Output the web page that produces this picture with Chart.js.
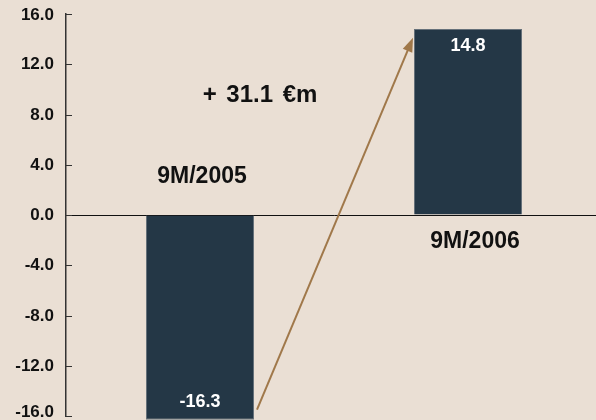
<!DOCTYPE html>
<html lang="en">
<head>
    <meta charset="utf-8">
    <title>9M result</title>
    <script src="https://cdn.jsdelivr.net/npm/chart.js"></script>
    <style>
        html, body {
            margin: 0;
            padding: 0;
            background: #eadfd4;
            overflow: hidden;
        }
        #box {
            width: 602px;
            height: 420px;
        }
    </style>
</head>
<body>
    <div id="box">
        <canvas id="resultChart"></canvas>
    </div>
    <script>
        // data
        const periods = ['9M/2005', '9M/2006'];
        const results = [-16.3, 14.8];
        const yTicks = [-16, -12, -8, -4, 0, 4, 8, 12, 16];
        const deltaText = '+ 31.1 \u20acm';

        const FONT = '"Liberation Sans", Arial, sans-serif';

        // tick labels, period names, bar values, the delta text and the arrow
        const decorPlugin = {
            id: 'decor',
            afterDatasetsDraw(chart) {
                const ctx = chart.ctx;
                const y = chart.scales.y;
                const bars = chart.getDatasetMeta(0).data;
                const area = chart.chartArea;

                ctx.save();
                // tick marks on the inner side of the axis, labels to the left
                ctx.strokeStyle = '#333';
                ctx.lineWidth = 1;
                ctx.fillStyle = '#111';
                ctx.font = 'bold 17px ' + FONT;
                ctx.textAlign = 'right';
                ctx.textBaseline = 'middle';
                yTicks.forEach(t => {
                    const py = Math.round(y.getPixelForValue(t)) + 0.5;
                    ctx.beginPath();
                    ctx.moveTo(area.left, py);
                    ctx.lineTo(area.left + 6, py);
                    ctx.stroke();
                    const ly = Math.min(Math.max(py, 15), chart.height - 8);
                    ctx.fillText(t.toFixed(1), area.left - 12, ly);
                });

                // values inside the bars
                ctx.fillStyle = '#ffffff';
                ctx.font = 'bold 18px ' + FONT;
                ctx.textAlign = 'center';
                bars.forEach((b, i) => {
                    const v = results[i];
                    const py = v >= 0 ? b.y + 17 : b.y - 18;
                    ctx.fillText(v.toFixed(1), b.x, py);
                });

                // period names
                ctx.fillStyle = '#111';
                ctx.font = 'bold 23px ' + FONT;
                ctx.fillText(periods[0], bars[0].x + 2, y.getPixelForValue(3.05));
                ctx.fillText(periods[1], bars[1].x + 7, y.getPixelForValue(-2.13));

                // delta
                ctx.font = 'bold 24px ' + FONT;
                ctx.wordSpacing = '3px';
                ctx.fillText(deltaText, bars[0].x + 60, y.getPixelForValue(9.5));
                ctx.wordSpacing = '0px';

                // arrow from the bottom of the first bar to the top of the second
                const x0 = bars[0].x + bars[0].width / 2 + 3;
                const y0 = y.getPixelForValue(-15.5);
                const x1 = bars[1].x - bars[1].width / 2 - 1;
                const y1 = y.getPixelForValue(14.1);
                const ang = Math.atan2(y1 - y0, x1 - x0);
                const head = 15;
                ctx.strokeStyle = '#a0784a';
                ctx.fillStyle = '#a0784a';
                ctx.lineWidth = 2;
                ctx.beginPath();
                ctx.moveTo(x0, y0);
                ctx.lineTo(x1 - Math.cos(ang) * head * 0.8, y1 - Math.sin(ang) * head * 0.8);
                ctx.stroke();
                ctx.beginPath();
                ctx.moveTo(x1, y1);
                ctx.lineTo(x1 - head * Math.cos(ang - 0.35), y1 - head * Math.sin(ang - 0.35));
                ctx.lineTo(x1 - head * Math.cos(ang + 0.35), y1 - head * Math.sin(ang + 0.35));
                ctx.closePath();
                ctx.fill();
                ctx.restore();
            }
        };

        new Chart(document.getElementById('resultChart'), {
            type: 'bar',
            data: {
                labels: periods,
                datasets: [{
                    data: results,
                    backgroundColor: '#243746',
                    borderColor: '#66717a',
                    borderWidth: 1,
                    barPercentage: 0.403,
                    categoryPercentage: 1,
                    clip: false
                }]
            },
            options: {
                responsive: true,
                maintainAspectRatio: false,
                animation: false,
                layout: {
                    padding: { top: 14, bottom: 4, left: 0, right: 0 }
                },
                plugins: {
                    legend: { display: false },
                    tooltip: { enabled: false }
                },
                scales: {
                    x: {
                        display: false
                    },
                    y: {
                        min: -16,
                        max: 16,
                        afterFit(scale) {
                            scale.width = 66;
                            scale.paddingTop = 0;
                            scale.paddingBottom = 0;
                        },
                        afterBuildTicks(scale) {
                            scale.ticks = yTicks.map(v => ({ value: v }));
                        },
                        ticks: {
                            display: false
                        },
                        grid: {
                            drawTicks: false,
                            color: c => c.tick && c.tick.value === 0 ? '#111' : 'transparent',
                            lineWidth: 1
                        },
                        border: {
                            display: true,
                            color: '#333',
                            width: 1.5
                        }
                    }
                }
            },
            plugins: [decorPlugin]
        });
    </script>
</body>
</html>
